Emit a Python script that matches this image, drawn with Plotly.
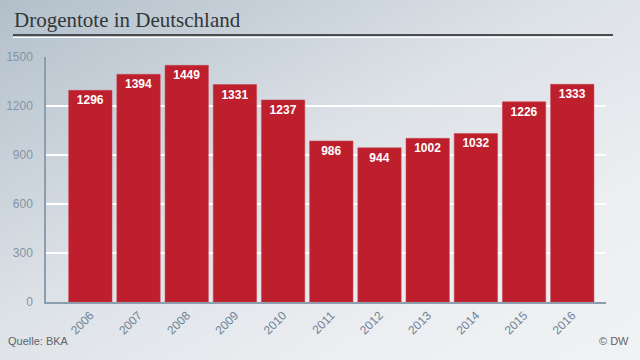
import base64
import plotly.graph_objects as go

years = ["2006", "2007", "2008", "2009", "2010", "2011", "2012", "2013", "2014", "2015", "2016"]
deaths = [1296, 1394, 1449, 1331, 1237, 986, 944, 1002, 1032, 1226, 1333]
y_ticks = [0, 300, 600, 900, 1200, 1500]

W, H = 640, 360
L, R, T, B = 46, 34, 57, 58
PW, PH = W - L - R, H - T - B

def px(x):
    return (x - L) / PW

def py(y):
    return (H - B - y) / PH

svg = (
    '<svg xmlns="http://www.w3.org/2000/svg" width="640" height="360" viewBox="0 0 640 360" preserveAspectRatio="none">'
    '<defs><linearGradient id="g" x1="0" y1="0" x2="1" y2="1">'
    '<stop offset="0" stop-color="#b2bfca"/>'
    '<stop offset="0.45" stop-color="#dde2e7"/>'
    '<stop offset="0.75" stop-color="#eceef1"/>'
    '<stop offset="1" stop-color="#f1f2f4"/>'
    '</linearGradient></defs>'
    '<rect width="640" height="360" fill="url(#g)"/></svg>'
)
src = "data:image/svg+xml;base64," + base64.b64encode(svg.encode()).decode()

fig = go.Figure()
fig.add_trace(go.Bar(
    x=years, y=deaths,
    marker=dict(color="#be1f2d", line=dict(color="#c8434e", width=0.5)),
    text=[str(v) for v in deaths],
    textposition="inside",
    insidetextanchor="end",
    textangle=0,
    constraintext="none",
    textfont=dict(color="white", size=12, family="Arial, Liberation Sans, sans-serif", weight="bold"),
    hoverinfo="skip",
))

fig.update_layout(
    width=W, height=H,
    margin=dict(l=L, r=R, t=T, b=B, pad=0, autoexpand=False),
    paper_bgcolor="#eceef1",
    plot_bgcolor="rgba(0,0,0,0)",
    bargap=0.1,
    showlegend=False,
    images=[dict(source=src, xref="paper", yref="paper", x=px(0), y=py(0),
                 sizex=W / PW, sizey=H / PH, sizing="stretch", layer="below",
                 xanchor="left", yanchor="top")],
    xaxis=dict(
        type="category", range=[-0.92, 10.7], automargin=False,
        showgrid=False, zeroline=False,
        showline=True, linecolor="#8c9dad", linewidth=1.5,
        tickangle=-45, ticks="",
        tickfont=dict(color="#6f8498", size=12, family="Arial, Liberation Sans, sans-serif"),
    ),
    yaxis=dict(
        range=[0, 1500], tickvals=y_ticks, automargin=False,
        showgrid=True, gridcolor="#ffffff", gridwidth=1.5,
        zeroline=False,
        showline=True, linecolor="#8c9dad", linewidth=1.5,
        ticks="", ticklabelstandoff=9,
        tickfont=dict(color="#8395a6", size=12, family="Arial, Liberation Sans, sans-serif"),
    ),
    shapes=[
        dict(type="line", xref="paper", yref="paper", x0=px(13), x1=px(613), y0=py(35), y1=py(35),
             line=dict(color="#4a4d50", width=2)),
        dict(type="line", xref="paper", yref="paper", x0=px(13), x1=px(613), y0=py(37.5), y1=py(37.5),
             line=dict(color="#ffffff", width=1)),
    ],
    annotations=[
        dict(text="Drogentote in Deutschland", xref="paper", yref="paper", x=px(12), y=py(20),
             xanchor="left", yanchor="middle", showarrow=False,
             font=dict(family="Liberation Serif, DejaVu Serif, serif", size=21, color="#333639")),
        dict(text="Quelle: BKA", xref="paper", yref="paper", x=px(6), y=py(341),
             xanchor="left", yanchor="middle", showarrow=False,
             font=dict(family="Arial, Liberation Sans, sans-serif", size=11, color="#5f6368")),
        dict(text="© DW", xref="paper", yref="paper", x=px(631), y=py(341),
             xanchor="right", yanchor="middle", showarrow=False,
             font=dict(family="Arial, Liberation Sans, sans-serif", size=11, color="#5f6368")),
    ],
)

fig.write_html(
    "out.html",
    config={"displayModeBar": False},
    post_script="document.body.style.margin='0';document.body.style.overflow='hidden';",
)
